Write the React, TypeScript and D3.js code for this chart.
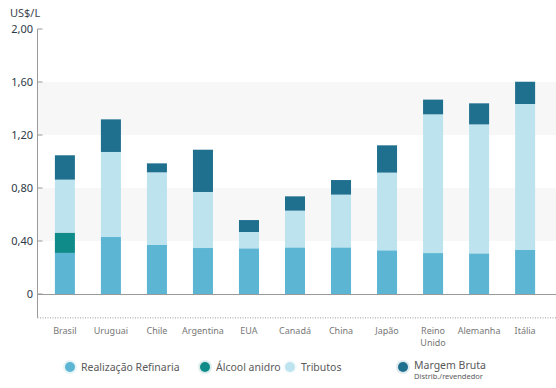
import * as d3 from 'd3'

const countries = ['Brasil', 'Uruguai', 'Chile', 'Argentina', 'EUA', 'Canadá', 'China', 'Japão', 'Reino Unido', 'Alemanha', 'Itália']
const realizacao = [0.31, 0.43, 0.37, 0.347, 0.345, 0.352, 0.352, 0.33, 0.309, 0.307, 0.332]
const alcool = [0.153, 0, 0, 0, 0, 0, 0, 0, 0, 0, 0]
const tributos = [0.4, 0.642, 0.548, 0.423, 0.123, 0.277, 0.398, 0.586, 1.047, 0.973, 1.102]
const margem = [0.184, 0.246, 0.068, 0.319, 0.09, 0.108, 0.11, 0.206, 0.111, 0.159, 0.168]

const yTicks = [0, 0.4, 0.8, 1.2, 1.6, 2.0]
const seriesKeys = ['realizacao', 'alcool', 'tributos', 'margem']
const seriesColors = ['#5bb5d3', '#0f8b89', '#bde3ef', '#1f6f8e']

const W = 556
const H = 388
const axisX = 37.5
const font = '"Noto Sans", "Open Sans", sans-serif'

export default function App() {
  const rows = countries.map((c, i) => ({
    country: c,
    realizacao: realizacao[i],
    alcool: alcool[i],
    tributos: tributos[i],
    margem: margem[i],
  }))
  const stack = d3.stack<any>().keys(seriesKeys)(rows)

  const y = d3.scaleLinear().domain([0, 2]).range([294, 29])
  const x = d3.scaleBand().domain(countries).range([42, 548]).paddingInner(0.565).paddingOuter(0.28)
  const fmt = (v: number) => (v === 0 ? '0' : d3.format('.2f')(v).replace('.', ','))
  const bottomY = y(-0.18)

  const legend = [
    { label: 'Realização Refinaria', cx: 70, color: seriesColors[0] },
    { label: 'Álcool anidro', cx: 205, color: seriesColors[1] },
    { label: 'Tributos', cx: 290, color: seriesColors[2] },
    { label: 'Margem Bruta', sub: 'Distrib./revendedor', cx: 403, color: seriesColors[3] },
  ]

  return (
    <svg width={W} height={H} style={{ position: 'absolute', left: 0, top: 0, fontFamily: font }}>
      <rect width={W} height={H} fill="#ffffff" />
      {/* faixas de fundo */}
      {[[1.2, 1.6], [0.4, 0.8]].map(([a, b], i) => (
        <rect key={i} x={axisX} y={y(b)} width={W - axisX} height={y(a) - y(b)} fill="#f7f7f7" />
      ))}
      <text x={10} y={17} fontSize={11} fill="#3a4550">US$/L</text>
      {yTicks.map((t) => (
        <g key={t}>
          <text x={33} y={y(t) + 4} textAnchor="end" fontSize={11} fill="#2e3a46">{fmt(t)}</text>
          <line x1={axisX} x2={axisX + 5} y1={y(t)} y2={y(t)} stroke="#999" />
        </g>
      ))}
      {stack.map((s, si) => (
        <g key={s.key} fill={seriesColors[si]}>
          {s.map((d, i) => (
            <rect key={i} x={x(countries[i])} width={x.bandwidth()} y={y(d[1])} height={Math.max(0, y(d[0]) - y(d[1]))} />
          ))}
        </g>
      ))}
      <line x1={axisX} x2={W} y1={y(0) + 0.5} y2={y(0) + 0.5} stroke="#9a9a9a" />
      <line x1={axisX} x2={axisX} y1={y(2)} y2={bottomY} stroke="#9a9a9a" />
      <line x1={axisX} x2={W} y1={bottomY} y2={bottomY} stroke="#999" strokeDasharray="1,1.5" />
      {countries.map((c) => {
        const cx = (x(c) ?? 0) + x.bandwidth() / 2
        const parts = c === 'Reino Unido' ? ['Reino', 'Unido'] : [c]
        return parts.map((p, j) => (
          <text key={c + j} x={cx} y={334 + j * 12} textAnchor="middle" fontSize={9} fill="#777">{p}</text>
        ))
      })}
      {legend.map((l) => (
        <g key={l.label}>
          <circle cx={l.cx} cy={367} r={7} fill={l.color} opacity={0.15} />
          <circle cx={l.cx} cy={367} r={5} fill={l.color} />
          <text x={l.cx + 11} y={l.sub ? 369 : 371} fontSize={10.5} fill="#5a5a5a">{l.label}</text>
          {l.sub && <text x={l.cx + 11} y={379} fontSize={7.5} fill="#5a5a5a">{l.sub}</text>}
        </g>
      ))}
    </svg>
  )
}
